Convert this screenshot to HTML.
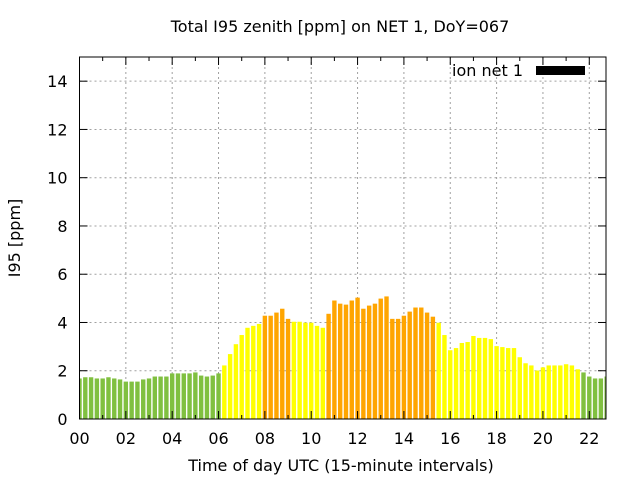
<!DOCTYPE html>
<html><head><meta charset="utf-8"><style>body{margin:0;background:#fff}svg{display:block}text{font-family:"DejaVu Sans","Liberation Sans",sans-serif;fill:#000}</style></head><body>
<svg id="s" width="640" height="480" xmlns="http://www.w3.org/2000/svg"></svg>
<script>
const v=[1.68,1.73,1.73,1.68,1.68,1.73,1.68,1.64,1.55,1.55,1.55,1.64,1.68,1.76,1.76,1.76,1.89,1.89,1.89,1.89,1.93,1.80,1.76,1.80,1.89,
2.22,2.69,3.10,3.48,3.78,3.86,3.94,4.28,4.28,4.41,4.57,4.15,4.03,4.03,3.99,3.99,3.86,3.78,4.36,4.91,4.78,
4.74,4.91,5.03,4.57,4.70,4.78,4.99,5.08,4.15,4.15,4.28,4.45,4.62,4.62,4.41,4.24,3.99,3.48,2.85,2.94,3.15,3.19,3.44,3.36,3.36,3.31,3.02,2.98,2.94,2.94,2.56,2.31,2.22,2.01,2.14,2.22,2.22,2.22,2.27,2.22,2.06,1.93,1.76,1.68,1.68,1.76];
const L=79.5,R=606,T=57,B=419,dx=5.793,dy=24.13;
let h='';
for(let k=2;k<=14;k+=2){const y=B-k*dy;h+=`<line x1="${L}" x2="${R}" y1="${y}" y2="${y}" stroke="#a0a0a0" stroke-dasharray="2,3"/>`;}
for(let k=2;k<=22;k+=2){const x=L+k*4*dx;h+=`<line x1="${x}" x2="${x}" y1="${T}" y2="${B}" stroke="#a0a0a0" stroke-dasharray="2,3"/>`;}
h+=`<defs><clipPath id="c"><rect x="${L}" y="${T}" width="${R-L}" height="${B-T}"/></clipPath></defs><g clip-path="url(#c)">`;
v.forEach((val,i)=>{let col;
if(i<=24||i>=87)col='#80c040';else if(val>=4.1)col='#ffa500';else col='#ffff00';
const x=L+i*dx-2.2,y=B-val*dy;h+=`<rect x="${x}" y="${y}" width="4.4" height="${B-y}" fill="${col}"/>`;});
h+='</g>';
for(let k=0;k<=14;k+=2){const y=B-k*dy;h+=`<line x1="${L}" x2="${L+8}" y1="${y}" y2="${y}" stroke="#000"/><line x1="${R-8}" x2="${R}" y1="${y}" y2="${y}" stroke="#000"/><text x="${L-12}" y="${y+6}" font-size="16" text-anchor="end">${k}</text>`;}
for(let k=0;k<=22;k++){const x=L+k*4*dx,len=k%2?4:8;h+=`<line x1="${x}" x2="${x}" y1="${B}" y2="${B-len}" stroke="#000"/><line x1="${x}" x2="${x}" y1="${T}" y2="${T+len}" stroke="#000"/>`;
if(k%2==0)h+=`<text x="${x}" y="${B+25}" font-size="16" text-anchor="middle">${String(k).padStart(2,'0')}</text>`;}
h+=`<rect x="${L}" y="${T}" width="${R-L}" height="${B-T}" fill="none" stroke="#000"/>`;
h+=`<text x="340" y="32" font-size="16" text-anchor="middle">Total I95 zenith [ppm] on NET 1, DoY=067</text>`;
h+=`<text x="341" y="471" font-size="16" text-anchor="middle">Time of day UTC (15-minute intervals)</text>`;
h+=`<text transform="translate(20,238) rotate(-90)" font-size="16" text-anchor="middle">I95 [ppm]</text>`;
h+=`<text x="523" y="76" font-size="16" text-anchor="end">ion net 1</text><rect x="536" y="66" width="49" height="9" fill="#000"/>`;
document.getElementById('s').innerHTML=h;
</script>
</body></html>
